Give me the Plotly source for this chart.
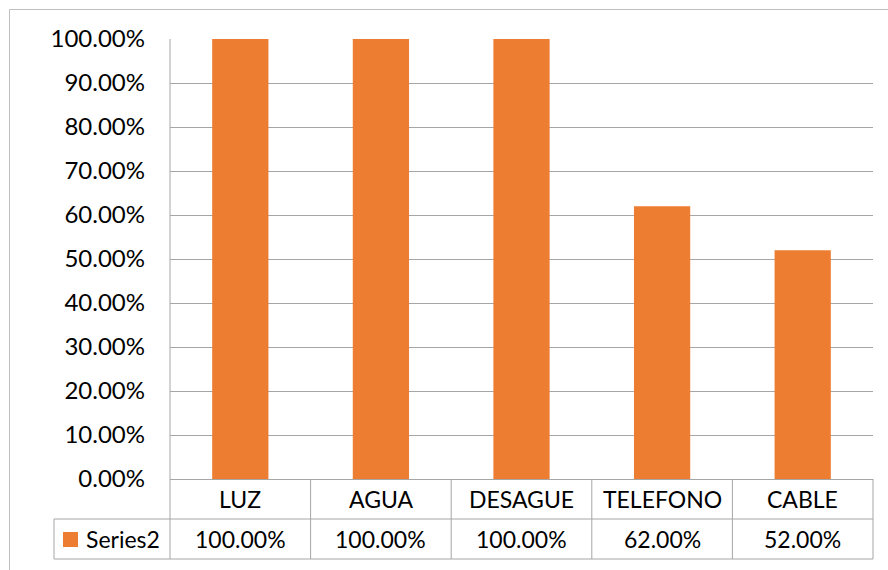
import plotly.graph_objects as go

categories = ["LUZ", "AGUA", "DESAGUE", "TELEFONO", "CABLE"]
values = [1.00, 1.00, 1.00, 0.62, 0.52]
series_name = "Series2"
value_labels = ["100.00%", "100.00%", "100.00%", "62.00%", "52.00%"]

W, H = 888, 570
L, R, T, B = 170, 873, 39, 479
PW, PH = R - L, B - T
FONT = "Lato"
FS = 24
LINE = "#a6a6a6"
BAR = "#ED7D31"


def xp(px):
    return (px - L) / PW


def yp(py):
    return (B - py) / PH


fig = go.Figure()
fig.add_trace(go.Bar(x=categories, y=values, marker_color=BAR, name=series_name,
                     marker_line_width=0, showlegend=False))

shapes = []


def line(x0, y0, x1, y1):
    shapes.append(dict(type="line", xref="paper", yref="paper",
                       x0=xp(x0), y0=yp(y0), x1=xp(x1), y1=yp(y1),
                       line=dict(color=LINE, width=1)))


# outer chart border
shapes.append(dict(type="rect", xref="paper", yref="paper",
                   x0=xp(9.5), y0=yp(9.5), x1=xp(900), y1=yp(600),
                   line=dict(color="#bfbfbf", width=1), layer="below"))

row1, row2, row3 = B, 519, 559
col_w = PW / len(categories)
# horizontal table lines
line(L, row2, R, row2)
line(54, row2, L, row2)
line(54, row3, R, row3)
# vertical lines
line(L, T, L, row3)
line(54, row2, 54, row3)
for i in range(1, len(categories) + 1):
    line(L + i * col_w, row1, L + i * col_w, row3)

annotations = []
for i, (c, v) in enumerate(zip(categories, value_labels)):
    annotations.append(dict(x=c, xref="x", y=yp((row1 + row2) / 2), yref="paper",
                             text=c, showarrow=False, xanchor="center", yanchor="middle",
                             font=dict(family=FONT, size=FS - 1, color="#000")))
    annotations.append(dict(x=c, xref="x", y=yp((row2 + row3) / 2), yref="paper",
                             text=v, showarrow=False, xanchor="center", yanchor="middle",
                             font=dict(family=FONT, size=FS - 1, color="#000")))

# legend key in table
shapes.append(dict(type="rect", xref="paper", yref="paper",
                   x0=xp(63), y0=yp(547), x1=xp(78), y1=yp(532),
                   fillcolor=BAR, line=dict(width=0)))
annotations.append(dict(x=xp(84), xref="paper", y=yp((row2 + row3) / 2), yref="paper",
                        text=series_name, showarrow=False, xanchor="left", yanchor="middle",
                        font=dict(family=FONT, size=FS - 1, color="#000")))

fig.update_layout(
    width=W, height=H,
    margin=dict(l=L, r=W - R, t=T, b=H - B, pad=0),
    paper_bgcolor="white", plot_bgcolor="white",
    bargap=0.6,
    shapes=shapes, annotations=annotations,
    font=dict(family=FONT, size=FS, color="#000"),
    xaxis=dict(showticklabels=False, showgrid=False, showline=True,
               linecolor=LINE, linewidth=1, ticks="", zeroline=False),
    yaxis=dict(range=[0, 1], tickvals=[i / 10 for i in range(11)], tickformat=".2%",
               showgrid=True, gridcolor=LINE, gridwidth=1, zeroline=False,
               showline=False, ticks="", ticklabelstandoff=24,
               tickfont=dict(family=FONT, size=FS, color="#000")),
)

html = fig.to_html(full_html=True, include_plotlyjs=True,
                   config={"displayModeBar": False, "staticPlot": True})
html = html.replace("<body>", '<body style="margin:0;padding:0;">', 1)
with open("out.html", "w", encoding="utf-8") as f:
    f.write(html)
